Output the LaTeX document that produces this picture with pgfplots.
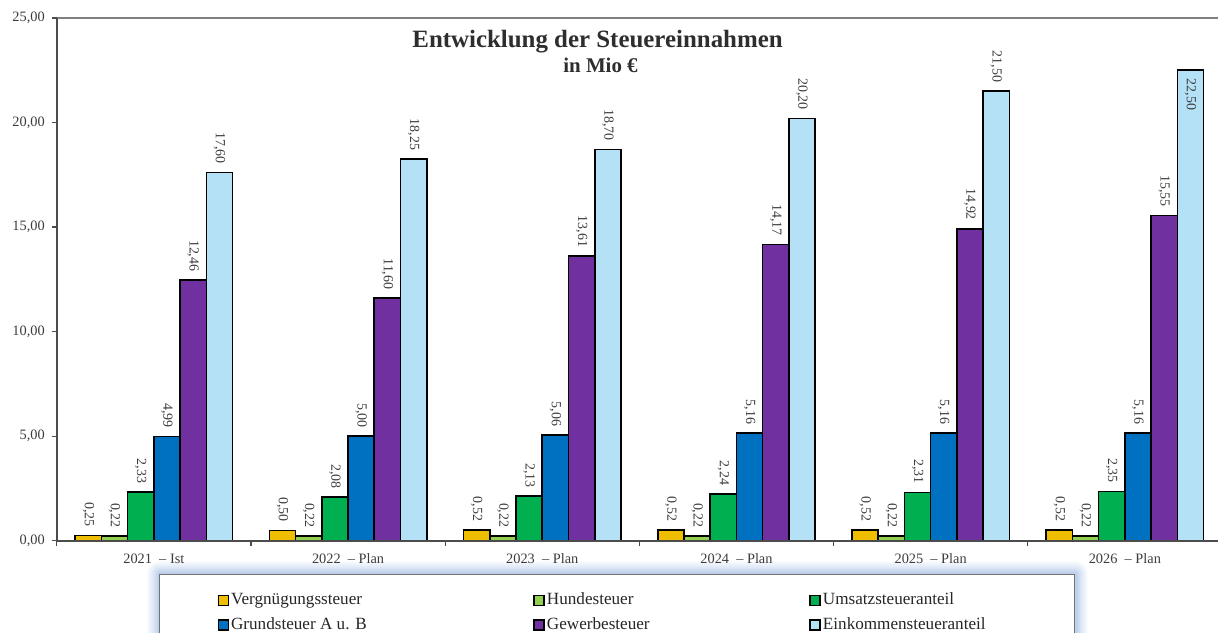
\documentclass[border=0pt]{standalone}
\usepackage{fontspec}
\setmainfont{Liberation Serif}
\usepackage{pgfplots}
\pgfplotsset{compat=1.18}
\definecolor{cVer}{RGB}{240,190,0}
\definecolor{cHun}{RGB}{146,208,80}
\definecolor{cUms}{RGB}{0,176,80}
\definecolor{cGru}{RGB}{0,112,192}
\definecolor{cGew}{RGB}{112,48,160}
\definecolor{cEin}{RGB}{180,225,245}
\definecolor{txt}{RGB}{60,60,60}
\definecolor{glow}{RGB}{170,195,230}
\begin{document}
\pgfkeys{/pgf/number format/.cd, fixed, fixed zerofill, precision=2, use comma, 1000 sep={}, assume math mode=true}
\begin{tikzpicture}[x=1pt,y=1pt]
\useasboundingbox (0,0) rectangle (609,317.5);
% soft glow around the legend box
\foreach \d/\o in {6/0.10,5/0.12,4/0.15,3/0.2,2/0.28,1/0.38} {
  \fill[glow, opacity=\o, rounded corners=\d pt] (77.5-\d,-20) rectangle (537.5+\d,29.5+\d);
}
\begin{axis}[
  at={(26pt,46pt)}, anchor=south west,
  scale only axis, width=585pt, height=262.5pt,
  xmin=-0.5, xmax=5.5, ymin=0, ymax=25,
  axis line style={draw=none},
  xtick pos=bottom, ytick pos=left,
  ybar=0pt, bar width=0.135,
  xtick={-0.5,0.5,...,5.5},
  x tick label as interval,
  xticklabels={2021 \ -- Ist, 2022 \ -- Plan, 2023 \ -- Plan, 2024 \ -- Plan, 2025 \ -- Plan, 2026 \ -- Plan},
  ytick={0,5,...,25},
  tick align=outside, major tick length=2.5pt,
  tick style={draw=black!70, line width=0.6pt},
  tick label style={font=\fontsize{7.2}{8}\selectfont, text=txt},
  xticklabel style={yshift=-0.5pt},
  nodes near coords,
  every node near coord/.append style={rotate=-90, anchor=east, font=\fontsize{7}{8}\selectfont, text=txt, inner sep=4pt},
  clip=false,
  legend columns=3,
  legend cell align=left,
  legend style={at={(0.0880,-0.0629)}, anchor=north west, draw=black!55, line width=0.5pt,
    fill=white,
    font=\fontsize{8.6}{10}\selectfont, text=black!85,
    inner xsep=29pt, inner ysep=8.5pt, row sep=2.8pt,
    nodes={inner xsep=1.2pt, inner ysep=1pt},
    /tikz/column 2/.style={column sep=82.5pt},
    /tikz/column 4/.style={column sep=79pt},
    /tikz/column 6/.style={nodes={text width=96pt}}},
  legend image code/.code={\draw[#1, line width=0.6pt] (0pt,-2.5pt) rectangle (5pt,2.5pt);},
]
\addplot[fill=cVer, draw=black, line width=0.8pt] coordinates {(0,0.25) (1,0.50) (2,0.52) (3,0.52) (4,0.52) (5,0.52)};
\addplot[fill=cHun, draw=black, line width=0.8pt] coordinates {(0,0.22) (1,0.22) (2,0.22) (3,0.22) (4,0.22) (5,0.22)};
\addplot[fill=cUms, draw=black, line width=0.8pt] coordinates {(0,2.33) (1,2.08) (2,2.13) (3,2.24) (4,2.31) (5,2.35)};
\addplot[fill=cGru, draw=black, line width=0.8pt] coordinates {(0,4.99) (1,5.00) (2,5.06) (3,5.16) (4,5.16) (5,5.16)};
\addplot[fill=cGew, draw=black, line width=0.8pt] coordinates {(0,12.46) (1,11.60) (2,13.61) (3,14.17) (4,14.92) (5,15.55)};
\addplot[fill=cEin, draw=black, line width=0.8pt,
  visualization depends on={value \thisrow{a}\as\myanc},
  every node near coord/.append style={anchor=\myanc}] table {
x y a
0 17.60 east
1 18.25 east
2 18.70 east
3 20.20 east
4 21.50 east
5 22.50 west
};
\legend{Vergnügungssteuer, Hundesteuer, Umsatzsteueranteil, Grundsteuer A u. B, Gewerbesteuer, Einkommensteueranteil}
\draw[draw=black!50, line width=0.8pt] (rel axis cs:0,1) -- (rel axis cs:1,1);
\draw[draw=black!70, line width=0.8pt] (rel axis cs:0,1) -- (rel axis cs:0,0) -- (rel axis cs:1,0);
\end{axis}
\node[font=\bfseries\fontsize{12.5}{14}\selectfont, text=black!82] at (297.5,296.5) {Entwicklung der Steuereinnahmen};
\node[font=\bfseries\fontsize{10.5}{12}\selectfont, text=black!82] at (299,284.5) {in Mio €};
\end{tikzpicture}
\end{document}
